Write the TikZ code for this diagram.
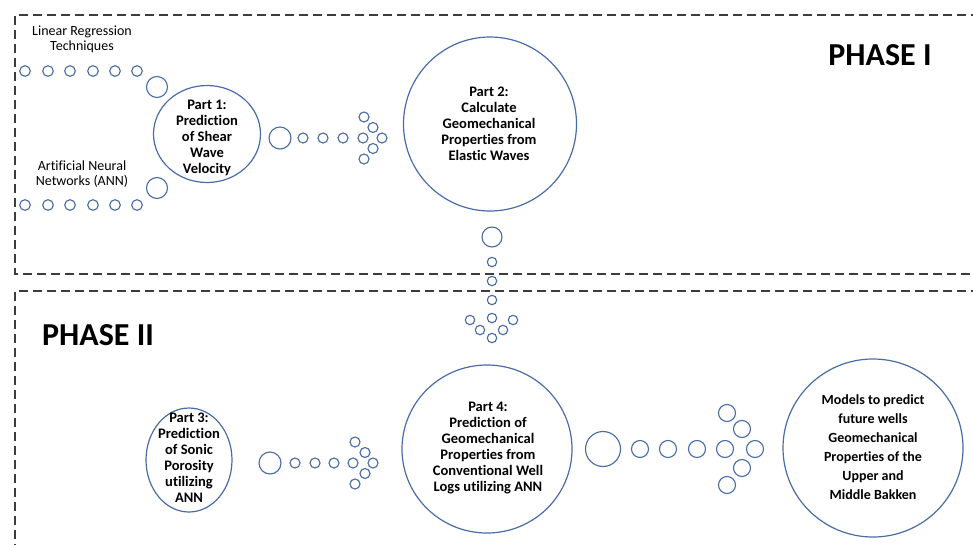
\documentclass[tikz,border=0pt]{standalone}
\usepackage{fontspec}
\setmainfont{Carlito}[Ligatures=NoCommon]
\usetikzlibrary{shapes.geometric}
\definecolor{ringblue}{RGB}{74,108,166}
\definecolor{framegray}{RGB}{60,60,60}
\begin{document}
\begin{tikzpicture}[x=0.75pt,y=-0.75pt,
  phaseframe/.style={draw=framegray, line width=0.9pt, dash pattern=on 7pt off 3.5pt},
  stage/.style 2 args={ellipse, draw=ringblue, line width=0.9pt, inner sep=0pt,
    minimum width=#1*1.5pt, minimum height=#2*1.5pt},
  stagetext/.style={align=center, inner sep=0pt, font=\bfseries\fontsize{10.9}{12}\selectfont},
  sidetext/.style={align=center, inner sep=0pt, font=\fontsize{10.5}{11.3}\selectfont},
  phasetitle/.style={inner sep=0pt, font=\bfseries\fontsize{24}{28}\selectfont},
  bubble/.style={draw=ringblue, line width=0.85pt}
]
\useasboundingbox (0,0) rectangle (973,544);

% phase frames (open on the right / bottom)
\draw[phaseframe] (980,15) -- (15,15) -- (15,274) -- (980,274);
\draw[phaseframe] (980,291) -- (15,291) -- (15,550);

% phase titles
\node[phasetitle] (ph1) at (880,55) {PHASE I};
\node[phasetitle] (ph2) at (98,335) {PHASE II};

% stages
\node[stage={53.5}{48.5}] (p1) at (207,134) {};
\node[stagetext] (p1t) at (207,137.5) {Part 1:\\Prediction\\of Shear\\Wave\\Velocity};

\node[stage={86.5}{87}] (p2) at (490,124) {};
\node[stagetext] (p2t) at (489,124) {Part 2:\\Calculate\\Geomechanical\\Properties from\\Elastic Waves};

\node[stage={43}{52}] (p3) at (189,460) {};
\node[stagetext] (p3t) at (189,458) {Part 3:\\Prediction\\of Sonic\\Porosity\\utilizing\\ANN};

\node[stage={85}{84}] (p4) at (487,449) {};
\node[stagetext] (p4t) at (488,448) {Part 4:\\Prediction of\\Geomechanical\\Properties from\\Conventional Well\\Logs utilizing ANN};

\node[stage={90}{89}] (p5) at (873,448) {};
\node[stagetext, font=\bfseries\fontsize{10.5}{14.25}\selectfont] (p5t) at (873,447.5)
  {Models to predict\\future wells\\Geomechanical\\Properties of the\\Upper and\\Middle Bakken};

% input methods feeding part 1
\node[sidetext] (lr) at (82,39.5) {Linear Regression\\Techniques};
\node[sidetext] (ann) at (82,174) {Artificial Neural\\Networks (ANN)};
\foreach \x in {25,48,70,93,115,137} {
  \draw[bubble] (\x,71) circle[radius=5.3];
  \draw[bubble] (\x,205) circle[radius=5.3];
}
\draw[bubble] (157,87) circle[radius=10.5];
\draw[bubble] (157,188) circle[radius=10.5];

% bubble arrow: part 1 -> part 2
\draw[bubble] (280,138) circle[radius=11];
\foreach \x/\y in {303/138,323/138,343/138,363/138,364/117,373/127.5,382/138,373/148.5,364/159}
  \draw[bubble] (\x,\y) circle[radius=5];

% bubble arrow: part 2 -> part 4 (downwards)
\draw[bubble] (492,237) circle[radius=10];
\foreach \x/\y in {492/262,492/281,492/300,492/318,470/320,480/330,492/338,503/330,513/320}
  \draw[bubble] (\x,\y) circle[radius=4.7];

% bubble arrow: part 3 -> part 4
\draw[bubble] (270,463) circle[radius=11];
\foreach \x/\y in {295/463,315/463,334/463,353/463,355/442,365/452.5,373/463,365/473.5,355/484}
  \draw[bubble] (\x,\y) circle[radius=5];

% bubble arrow: part 4 -> models
\draw[bubble] (603,449) circle[radius=17.5];
\foreach \x/\y in {640/449,668/449,697/449,725/449,727/413,742/429,755/449,742/468,727/485}
  \draw[bubble] (\x,\y) circle[radius=8.5];
\end{tikzpicture}
\end{document}
